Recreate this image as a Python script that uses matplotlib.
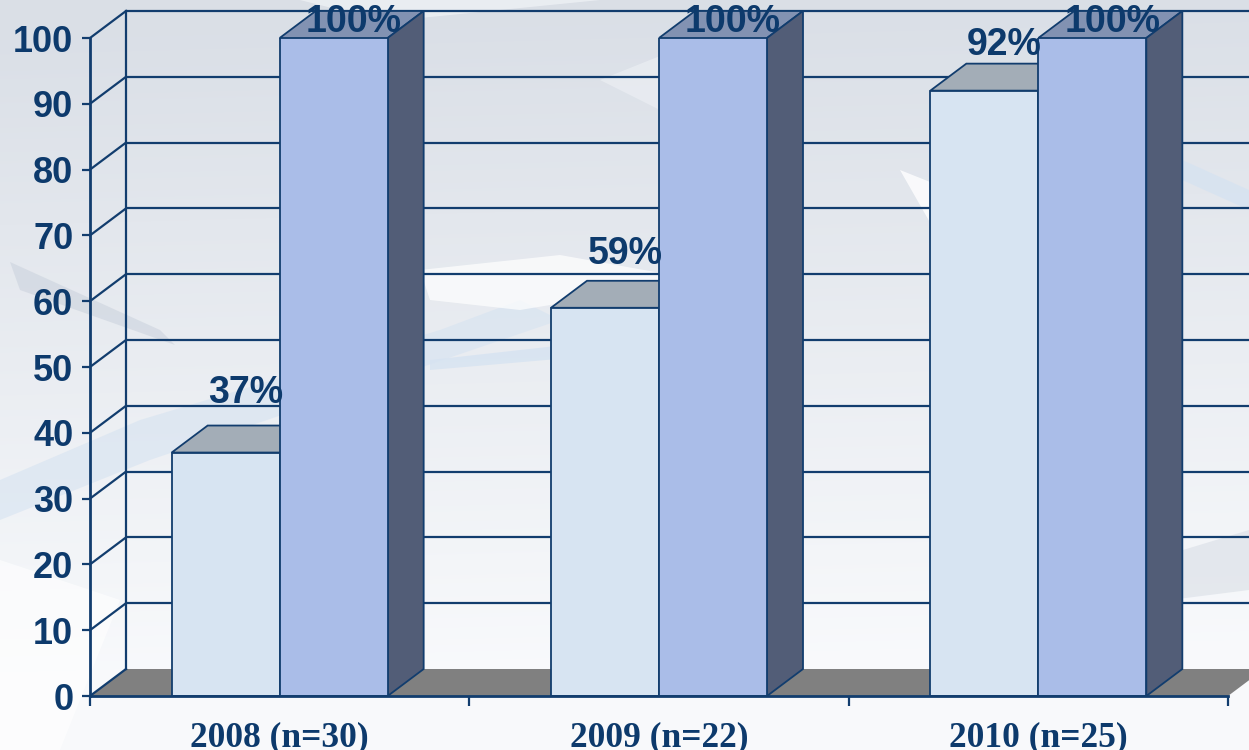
import matplotlib
matplotlib.use("Agg")
import matplotlib.pyplot as plt
import numpy as np
from matplotlib.patches import Polygon

# ---- data ----
categories = ["2008 (n=30)", "2009 (n=22)", "2010 (n=25)"]
series_a = [37, 59, 92]      # light bars
series_b = [100, 100, 100]   # darker bars
y_ticks = list(range(0, 101, 10))

# ---- style ----
NAVY = "#0D3A6C"
EDGE = "#123D6E"
C_A_FRONT, C_A_TOP = "#D7E4F2", "#A3ADB7"
C_B_FRONT, C_B_TOP, C_B_SIDE = "#AABDE8", "#8292B2", "#525D77"
C_FLOOR = "#808080"

W, H = 1249, 750
fig = plt.figure(figsize=(W / 100, H / 100), dpi=100)

# ---- background (soft abstract gradient) ----
bg = fig.add_axes([0, 0, 1, 1], zorder=0)
bg.set_xlim(0, W); bg.set_ylim(H, 0); bg.axis("off")
yy, xx = np.mgrid[0:H:2, 0:W:2]
t = np.clip(yy / H * 1.15 - 0.05 + (xx / W) * 0.05, 0, 1)
top = np.array([0.855, 0.875, 0.905]); bot = np.array([0.975, 0.98, 0.988])
img = top[None, None, :] * (1 - t[..., None]) + bot[None, None, :] * t[..., None]
bg.imshow(img, extent=[0, W, H, 0], aspect="auto", interpolation="bilinear")
shapes = [
    ([(10, 262), (160, 330), (175, 345), (20, 290)], "#C9D1DC", 0.55),
    ([(0, 480), (140, 420), (440, 330), (520, 300), (560, 320), (150, 460), (0, 520)], "#D6E3F1", 0.6),
    ([(420, 270), (560, 255), (700, 280), (520, 310), (430, 300)], "#FFFFFF", 0.7),
    ([(430, 360), (700, 330), (720, 345), (430, 370)], "#D6E3F1", 0.8),
    ([(900, 170), (1000, 210), (1040, 250), (940, 240)], "#FFFFFF", 0.8),
    ([(1160, 150), (1249, 190), (1249, 210), (1160, 170)], "#D6E3F1", 0.8),
    ([(1150, 560), (1249, 530), (1249, 590), (1170, 600)], "#D9DEE6", 0.6),
    ([(0, 560), (120, 600), (60, 750), (0, 750)], "#FFFFFF", 0.6),
    ([(300, 0), (600, 0), (420, 18), (380, 20)], "#EEF1F5", 0.8),
    ([(600, 80), (700, 40), (660, 110)], "#EEF1F5", 0.6),
]
for pts, col, a in shapes:
    bg.add_patch(Polygon(pts, closed=True, facecolor=col, edgecolor="none", alpha=a))

# ---- main axes: front plane of the 3D chart ----
ax = fig.add_axes([90 / W, 54 / H, 1138 / W, 658 / H], zorder=1)
ax.patch.set_alpha(0)
ax.set_xlim(0, 3)
ax.set_ylim(0, 100)

px_x = 1138 / 3.0        # pixels per category unit
px_y = 658 / 100.0       # pixels per value unit
dx = 36 / px_x           # depth offset in data units
dy = 27 / px_y
x_right = 3.3

# floor
ax.add_patch(Polygon([(0, 0), (3, 0), (3 + dx, dy), (dx, dy)], closed=True,
                     facecolor=C_FLOOR, edgecolor="none", zorder=1, clip_on=False))

# back wall gridlines and side-wall diagonals
for v in y_ticks:
    if v > 0:
        ax.plot([dx, x_right], [v + dy, v + dy], color=EDGE, lw=1.6, zorder=1.5,
                clip_on=False, solid_capstyle="butt")
    ax.plot([0, dx], [v, v + dy], color=EDGE, lw=1.6, zorder=1.5, clip_on=False)
ax.plot([dx, dx], [dy, 100 + dy], color=EDGE, lw=1.6, zorder=1.5, clip_on=False)

# bars
w = 108 / px_x
centers = np.arange(len(categories)) + 0.5
xa = centers - w / 2
xb = centers + w / 2
ax.bar(xa, series_a, width=w, color=C_A_FRONT, edgecolor=EDGE, lw=1.3, zorder=3)
for x0, v in zip(xa, series_a):
    ax.add_patch(Polygon([(x0 - w / 2, v), (x0 - w / 2 + dx, v + dy),
                          (x0 + w / 2 + dx, v + dy), (x0 + w / 2, v)], closed=True,
                         facecolor=C_A_TOP, edgecolor=EDGE, lw=1.3, zorder=2.5, clip_on=False))
for x0, v in zip(xb, series_b):
    ax.add_patch(Polygon([(x0 - w / 2, v), (x0 - w / 2 + dx, v + dy),
                          (x0 + w / 2 + dx, v + dy), (x0 + w / 2, v)], closed=True,
                         facecolor=C_B_TOP, edgecolor=EDGE, lw=1.3, zorder=3.5, clip_on=False))
    ax.add_patch(Polygon([(x0 + w / 2, 0), (x0 + w / 2 + dx, dy),
                          (x0 + w / 2 + dx, v + dy), (x0 + w / 2, v)], closed=True,
                         facecolor=C_B_SIDE, edgecolor=EDGE, lw=1.3, zorder=3.5, clip_on=False))
ax.bar(xb, series_b, width=w, color=C_B_FRONT, edgecolor=EDGE, lw=1.3, zorder=4)

# value labels (kept inside the chart area at the top)
cap = 102.4
for xs, vals in ((xa, series_a), (xb, series_b)):
    for x0, v in zip(xs, vals):
        ax.text(x0 + dx / 2 + 0.005, min(v + dy + 6.5 - 0.04 * v, cap), f"{v}%",
                ha="center", va="center",
                fontsize=27, fontweight="bold", color=NAVY, family="Liberation Sans",
                zorder=6, clip_on=False)

# axes styling
for s in ("top", "right"):
    ax.spines[s].set_visible(False)
for s in ("left", "bottom"):
    ax.spines[s].set_color(EDGE)
    ax.spines[s].set_linewidth(2)
    ax.spines[s].set_zorder(5)
ax.set_yticks(y_ticks)
ax.set_yticklabels([str(v) for v in y_ticks])
ax.tick_params(axis="y", direction="out", length=6, width=1.6, color=EDGE, pad=6,
               labelsize=26, labelcolor=NAVY)
for lab in ax.get_yticklabels():
    lab.set_fontweight("bold"); lab.set_family("Liberation Sans")
ax.set_xticks([0, 1, 2, 3])
ax.set_xticklabels([])
ax.tick_params(axis="x", which="major", direction="out", length=7, width=1.6, color=EDGE)
ax.set_xticks(centers, minor=True)
ax.set_xticklabels(categories, minor=True)
ax.tick_params(axis="x", which="minor", length=0, pad=18, labelsize=25.5, labelcolor=NAVY)
for lab in ax.get_xticklabels(minor=True):
    lab.set_fontweight("bold"); lab.set_family("Liberation Serif")

fig.savefig("out.png", dpi=100)
